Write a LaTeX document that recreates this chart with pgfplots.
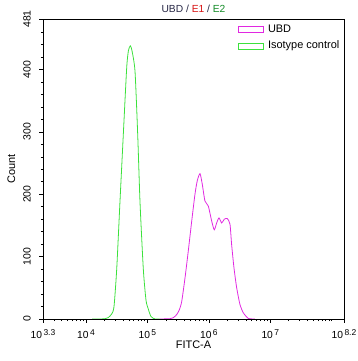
\documentclass[border=0pt]{standalone}
\usepackage{pgfplots}
\pgfplotsset{compat=1.18}
\usepackage{fontspec}
\setmainfont{Liberation Sans}
\definecolor{magline}{RGB}{225,40,225}
\definecolor{grnline}{RGB}{60,225,60}
\definecolor{titred}{RGB}{215,20,20}
\definecolor{titgrn}{RGB}{20,140,40}
\definecolor{titdark}{RGB}{40,40,70}
\newcommand{\dec}[1]{10\raisebox{3.5bp}{\fontsize{8.5}{9}\selectfont\,#1}}
\begin{document}
\begin{tikzpicture}
\begin{axis}[
  scale only axis,
  width=301bp, height=300bp,
  xmin=3.3, xmax=8.2, ymin=0, ymax=481,
  axis line style={line width=0.8pt},
  tick align=outside,
  xtick pos=bottom, ytick pos=left,
  major tick length=3.5bp, minor tick length=2bp,
  every tick/.style={black, line width=0.6pt},
  xtick={3.3,4,5,6,7,8.2},
  xticklabels={\dec{3.3},\dec{4},\dec{5},\dec{6},\dec{7},\dec{8.2}},
  minor xtick={3.477,3.602,3.699,3.778,3.845,3.903,3.954,
    4.301,4.477,4.602,4.699,4.778,4.845,4.903,4.954,
    5.301,5.477,5.602,5.699,5.778,5.845,5.903,5.954,
    6.301,6.477,6.602,6.699,6.778,6.845,6.903,6.954,
    7.301,7.477,7.602,7.699,7.778,7.845,7.903,7.954,8},
  ytick={0,100,200,300,400,481},
  yticklabels={0,100,200,300,400,481},
  minor ytick={20,40,60,80,120,140,160,180,220,240,260,280,320,340,360,380,420,440,460},
  yticklabel style={xshift=-9bp, rotate=90, anchor=base, inner sep=0pt, font=\fontsize{10.5}{12}\selectfont},
  xticklabel style={anchor=base, yshift=-16bp, inner sep=0pt, text depth=0pt, font=\fontsize{10.3}{11}\selectfont},
  every axis x label/.style={at={([yshift=-29bp]axis description cs:0.5,0)}, anchor=base, inner sep=0pt, text height=8bp, font=\fontsize{11}{13}\selectfont},
  every axis y label/.style={at={([xshift=-28bp]axis description cs:0,0.5)}, rotate=90, anchor=base, inner sep=0pt, font=\fontsize{11}{13}\selectfont},
  xlabel={FITC-A}, ylabel={Count},
  every axis title/.style={at={([yshift=6.7bp]axis description cs:0.5,1)}, anchor=base, inner sep=0pt, font=\fontsize{10.3}{12}\selectfont},
  title={\textcolor{titdark}{UBD /} \textcolor{titred}{E1} \textcolor{titdark}{/} \textcolor{titgrn}{E2}},
  legend style={at={([xshift=-3.5bp,yshift=-4bp]rel axis cs:1,1)}, anchor=north east, draw=none, fill=none,
    inner sep=0pt, font=\fontsize{11}{13}\selectfont, row sep=4bp,
    nodes={inner sep=1bp, text height=8bp, text depth=2.5bp}},
  legend cell align=left,
  legend image code/.code={\draw[line width=0.75pt] (0bp,-3bp) rectangle (25bp,3bp); \path[draw=none,fill=none] (25bp,0bp) -- (29bp,0bp);},
]
\addplot[magline, line width=0.8pt, smooth, tension=0.4] coordinates {
(5.20,0) (5.367,0.5) (5.42,2) (5.476,7) (5.52,15) (5.558,28) (5.612,66) (5.665,109) (5.721,157) (5.774,200)
(5.812,222) (5.856,233) (5.893,216) (5.937,189) (5.991,181) (6.046,157) (6.088,143)
(6.127,154) (6.165,162) (6.209,154) (6.251,160) (6.300,161) (6.344,152) (6.371,119)
(6.409,82) (6.453,50) (6.507,23) (6.561,10) (6.642,1) (6.75,0)
};
\addlegendentry{UBD}
\addplot[grnline, line width=0.8pt, smooth, tension=0.4] coordinates {
(4.10,0) (4.228,0) (4.309,0.5) (4.358,2) (4.418,8) (4.456,20) (4.50,80) (4.553,188) (4.607,295)
(4.662,402) (4.69,430) (4.721,438) (4.749,430) (4.798,397) (4.842,295) (4.879,188)
(4.933,80) (4.977,30) (5.014,16) (5.058,4) (5.123,0) (5.20,0)
};
\addlegendentry{Isotype control}
\end{axis}
\pgfresetboundingbox
\path ([shift={(-43bp,-42bp)}]current axis.south west) rectangle ([shift={(14bp,19bp)}]current axis.north east);
\end{tikzpicture}
\end{document}
